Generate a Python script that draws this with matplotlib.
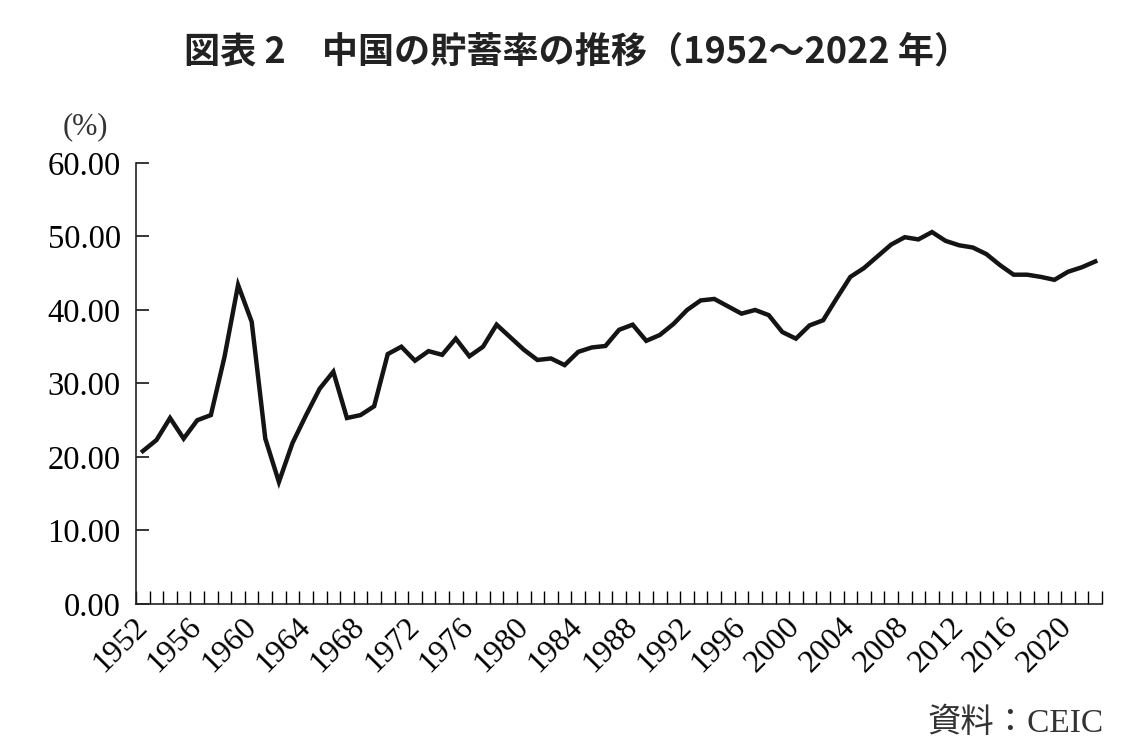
import matplotlib
matplotlib.use("Agg")
import matplotlib.pyplot as plt
import numpy as np

# 中国の貯蓄率 (%), 1952-2022
years = list(range(1952, 2023))
saving_rate = [
    20.8, 22.3, 25.3, 22.5, 25.0, 25.7, 33.6, 43.4, 38.4, 22.5,
    16.6, 21.9, 25.7, 29.3, 31.6, 25.3, 25.7, 26.9, 34.0, 35.0,
    33.1, 34.4, 33.9, 36.1, 33.7, 35.0, 38.0, 36.3, 34.6, 33.2,
    33.4, 32.5, 34.3, 34.9, 35.1, 37.3, 38.0, 35.8, 36.6, 38.1,
    40.0, 41.3, 41.5, 40.5, 39.5, 40.0, 39.3, 37.0, 36.1, 37.9,
    38.6, 41.6, 44.5, 45.7, 47.3, 48.9, 49.9, 49.6, 50.6, 49.4,
    48.8, 48.5, 47.6, 46.1, 44.8, 44.8, 44.5, 44.1, 45.2, 45.8,
    46.6,
]
label_years = list(range(1952, 2021, 4))
y_ticks = [0, 10, 20, 30, 40, 50, 60]

serif = ["Liberation Serif", "Noto Sans CJK JP"]

fig = plt.figure(figsize=(11.28, 7.5), dpi=100)
ax = fig.add_axes([0.1206, 0.1947, 0.8564, 0.588])

x = np.arange(len(years))
ax.plot(x, saving_rate, color="#141414", linewidth=3.2, solid_joinstyle="miter")

ax.set_xlim(-0.5, len(years) - 0.5)
ax.set_ylim(0, 60)

# category axis: small ticks between years, labels every 4 years
ax.set_xticks([years.index(y) for y in label_years])
ax.set_xticklabels([str(y) for y in label_years], rotation=45, ha="right",
                   va="center", rotation_mode="anchor", fontsize=23, family=serif)
ax.set_xticks(np.arange(-0.5, len(years)), minor=True)
ax.tick_params(axis="x", which="major", length=0, pad=13)
ax.tick_params(axis="x", which="minor", direction="in", length=9.5, width=1.0)

ax.set_yticks(y_ticks)
ax.set_yticklabels([f"{v:.2f}" for v in y_ticks], fontsize=23.5, family=serif)
ax.tick_params(axis="y", direction="in", length=9, width=1.1, pad=11)

for side in ["top", "right"]:
    ax.spines[side].set_visible(False)
for side in ["left", "bottom"]:
    ax.spines[side].set_linewidth(1.2)
    ax.spines[side].set_color("#222222")

fig.text(0.512, 0.931, "図表 2　中国の貯蓄率の推移（1952～2022 年）",
         ha="center", va="center", fontsize=26, fontweight="bold",
         family=["Noto Sans CJK JP", "DejaVu Sans"], color="#222222")
fig.text(0.0755, 0.831, "(%)", ha="center", va="center", fontsize=22,
         family=serif, color="#333333")
fig.text(0.978, 0.036, "資料：CEIC", ha="right", va="center", fontsize=24,
         family=serif, color="#333333")

fig.savefig("out.png", dpi=100)
